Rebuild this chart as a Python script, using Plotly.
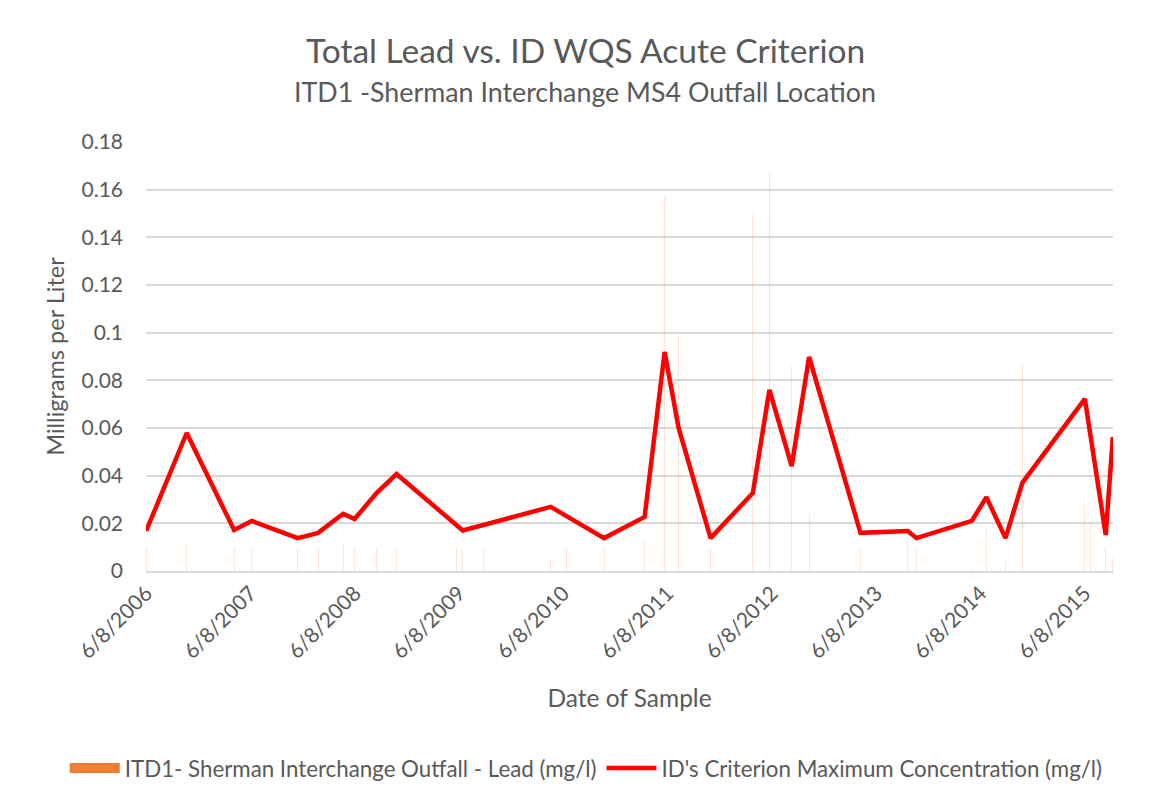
import plotly.graph_objects as go

# Sample dates (shared categories)
sample_dates = [
    "2006-06-08", "2006-10-28", "2007-04-12", "2007-06-13", "2007-11-21",
    "2008-01-31", "2008-04-28", "2008-06-07", "2008-08-23", "2008-11-01",
    "2009-05-31", "2009-06-21", "2009-09-02", "2010-04-25", "2010-06-20",
    "2010-10-29", "2011-03-20", "2011-05-29", "2011-07-17", "2011-11-06",
    "2012-04-02", "2012-05-30", "2012-08-16", "2012-10-16", "2013-04-14",
    "2013-09-27", "2013-10-27", "2014-05-09", "2014-06-29", "2014-09-04",
    "2014-11-02", "2015-06-09", "2015-06-28", "2015-08-21", "2015-09-15",
]

# Total lead measured (mg/l)
lead_mgl = [
    0.0095, 0.012, 0.0095, 0.0095, 0.0095,
    0.0095, 0.011, 0.0095, 0.0095, 0.0095,
    0.0095, 0.0095, 0.0095, 0.0046, 0.0095,
    0.0095, 0.013, 0.157, 0.099, 0.0095,
    0.150, 0.167, 0.086, 0.024, 0.0095,
    0.015, 0.0095, 0.001, 0.017, 0.0046,
    0.087, 0.029, 0.020, 0.010, 0.0055,
]

# ID criterion maximum concentration (mg/l); None = no criterion value
criterion_mgl = [
    0.0168, 0.0579, 0.0172, 0.021, 0.0138,
    0.016, 0.024, 0.0218, 0.0327, 0.0407,
    None, 0.017, 0.0193, 0.0269, None,
    0.0138, 0.0227, 0.0919, 0.060, 0.0138,
    0.0327, 0.076, 0.044, 0.0898, 0.016,
    0.0168, 0.0138, 0.021, 0.031, 0.0138,
    0.037, 0.0722, None, 0.0151, 0.0562,
]

tick_dates = ["2006-06-08", "2007-06-08", "2008-06-08", "2009-06-08", "2010-06-08",
              "2011-06-08", "2012-06-08", "2013-06-08", "2014-06-08", "2015-06-08"]
tick_labels = ["6/8/2006", "6/8/2007", "6/8/2008", "6/8/2009", "6/8/2010",
               "6/8/2011", "6/8/2012", "6/8/2013", "6/8/2014", "6/8/2015"]

y_ticks = [0, 0.02, 0.04, 0.06, 0.08, 0.1, 0.12, 0.14, 0.16, 0.18]
y_labels = ["0", "0.02", "0.04", "0.06", "0.08", "0.1", "0.12", "0.14", "0.16", "0.18"]

FONT = "Lato"
GREY = "#595959"
ORANGE = "#ED7D31"
DAY_MS = 86400000
BAR_DAYS = 3.6
LEAD_NAME = "ITD1- Sherman Interchange Outfall - Lead (mg/l)"

fig = go.Figure()
fig.add_trace(go.Bar(
    x=sample_dates, y=lead_mgl, name=LEAD_NAME, showlegend=False,
    marker=dict(color="rgba(237,125,49,0.2)", line=dict(width=0)),
    width=[BAR_DAYS * DAY_MS] * len(sample_dates),
))
# legend entry for the lead series (solid swatch as in the original legend)
fig.add_trace(go.Scatter(x=[None], y=[None], name=LEAD_NAME, mode="lines",
                         line=dict(color=ORANGE, width=13)))
fig.add_trace(go.Scatter(
    x=sample_dates, y=criterion_mgl, mode="lines", connectgaps=True,
    name="ID's Criterion Maximum Concentration (mg/l)",
    line=dict(color="#FF0000", width=4.5),
))

fig.update_layout(
    width=1156, height=803,
    paper_bgcolor="white", plot_bgcolor="white",
    margin=dict(l=138, r=51, t=134, b=240, autoexpand=False),
    font=dict(family=FONT, color=GREY, size=21),
    showlegend=True,
    barmode="overlay",
    legend=dict(orientation="h", xref="paper", x=-0.084, xanchor="left",
                yref="paper", y=-0.459, yanchor="middle",
                font=dict(size=22.3, color=GREY), itemwidth=50, traceorder="normal"),
    bargap=0,
)
fig.update_xaxes(
    type="date",
    range=["2006-06-07 12:00", "2015-09-15 12:00"],
    tickvals=tick_dates, ticktext=tick_labels, tickangle=-45,
    tickfont=dict(size=21, color=GREY),
    showgrid=False, showline=True, linecolor="#D9D9D9", linewidth=1.5,
    ticks="", automargin=False,
    title=dict(text="Date of Sample", font=dict(size=24.5, color=GREY), standoff=28),
)
fig.update_yaxes(
    range=[0, 0.18], tickvals=y_ticks, ticktext=y_labels,
    tickfont=dict(size=21, color=GREY),
    showgrid=True, gridcolor="#D9D9D9", gridwidth=1.5,
    zeroline=False, showline=False, ticks="", ticklabelstandoff=22,
    automargin=False,
    title=dict(text="Milligrams per Liter", font=dict(size=23.5, color=GREY), standoff=10),
)

fig.add_annotation(text="Total Lead vs. ID WQS Acute Criterion", xref="paper", yref="paper",
                   x=0.454, y=1.214, showarrow=False, xanchor="center", yanchor="middle",
                   font=dict(size=33.5, color=GREY, family=FONT))
fig.add_annotation(text="ITD1 -Sherman Interchange MS4 Outfall Location", xref="paper", yref="paper",
                   x=0.454, y=1.117, showarrow=False, xanchor="center", yanchor="middle",
                   font=dict(size=26.8, color=GREY, family=FONT))

fig.write_html("out.html")
